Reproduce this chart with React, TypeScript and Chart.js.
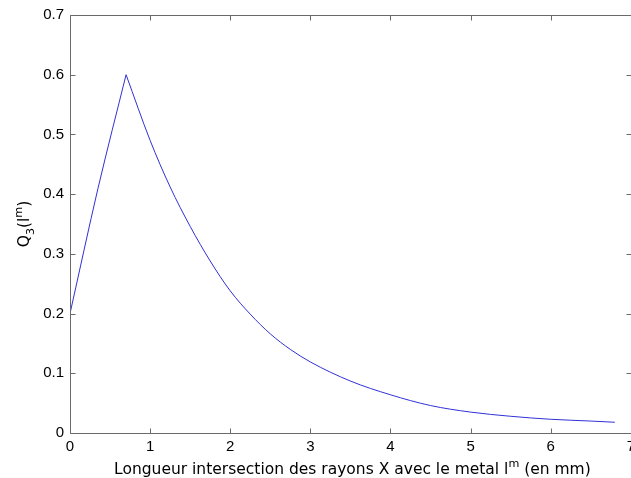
import React, { useEffect, useRef } from 'react';
import { Chart, registerables } from 'chart.js';

Chart.register(...registerables);

// Rising part of the curve
const risingX = [0, 0.35, 0.7];
const risingY = [0.2, 0.41, 0.6];

// Decaying part of the curve
const decayX = [0.7, 1.0, 1.25, 1.5, 1.75, 2.0, 2.25, 2.5, 2.75, 3.0, 3.5, 4.0, 4.5, 5.0, 5.5, 6.0, 6.5, 6.8];
const decayY = [0.6, 0.49, 0.412, 0.346, 0.288, 0.238, 0.199, 0.166, 0.14, 0.119, 0.087, 0.064, 0.046, 0.035, 0.028, 0.023, 0.02, 0.018];

const xTickLabels = ['0', '1', '2', '3', '4', '5', '6', '7'];
const yTickLabels = ['0', '0.1', '0.2', '0.3', '0.4', '0.5', '0.6', '0.7'];

type Part = { text: string; scale: number; dy: number };
const xTitleParts: Part[] = [
  { text: 'Longueur intersection des rayons X avec le metal l', scale: 1, dy: 0 },
  { text: 'm', scale: 0.72, dy: -0.42 },
  { text: ' (en mm)', scale: 1, dy: 0 },
];
const yTitleParts: Part[] = [
  { text: 'Q', scale: 1, dy: 0 },
  { text: '3', scale: 0.72, dy: 0.3 },
  { text: '(l', scale: 1, dy: 0 },
  { text: 'm', scale: 0.72, dy: -0.42 },
  { text: ')', scale: 1, dy: 0 },
];

const TITLE_FONT = 'DejaVu Sans';
const TITLE_SIZE = 15.5;
const TICK_FONT = 'Liberation Sans';
const TICK_SIZE = 15;
const AXIS_COLOR = '#6a6a6a';
const LINE_COLOR = 'rgb(48,48,215)';

function measureParts(ctx: CanvasRenderingContext2D, parts: Part[]) {
  let w = 0;
  for (const p of parts) {
    ctx.font = `${TITLE_SIZE * p.scale}px "${TITLE_FONT}"`;
    w += ctx.measureText(p.text).width;
  }
  return w;
}

function drawParts(ctx: CanvasRenderingContext2D, parts: Part[], x: number, y: number) {
  let cx = x;
  ctx.textAlign = 'left';
  ctx.textBaseline = 'alphabetic';
  ctx.fillStyle = '#000';
  for (const p of parts) {
    ctx.font = `${TITLE_SIZE * p.scale}px "${TITLE_FONT}"`;
    ctx.fillText(p.text, cx, y + p.dy * TITLE_SIZE);
    cx += ctx.measureText(p.text).width;
  }
}

const boxPlugin = {
  id: 'matlabBox',
  afterDraw(chart: any) {
    const { ctx, chartArea, scales } = chart;
    const { left, right, top, bottom } = chartArea;
    const L = Math.round(left) + 0.5;
    const R = Math.round(right) + 0.5;
    const T = Math.round(top) + 0.5;
    const B = Math.round(bottom) + 0.5;
    ctx.save();
    ctx.strokeStyle = AXIS_COLOR;
    ctx.lineWidth = 1;
    ctx.beginPath();
    ctx.rect(L, T, R - L, B - T);
    ctx.stroke();
    const tl = 5;
    ctx.beginPath();
    for (const t of scales.x.ticks) {
      const px = Math.round(scales.x.getPixelForValue(t.value)) + 0.5;
      ctx.moveTo(px, B);
      ctx.lineTo(px, B - tl);
      ctx.moveTo(px, T);
      ctx.lineTo(px, T + tl);
    }
    for (const t of scales.y.ticks) {
      const py = Math.round(scales.y.getPixelForValue(t.value)) + 0.5;
      ctx.moveTo(L, py);
      ctx.lineTo(L + tl, py);
      ctx.moveTo(R, py);
      ctx.lineTo(R - tl, py);
    }
    ctx.stroke();

    // x title
    const xw = measureParts(ctx, xTitleParts);
    const cx = (left + right) / 2 + 2;
    drawParts(ctx, xTitleParts, cx - xw / 2, 474);

    // y title (rotated)
    const yw = measureParts(ctx, yTitleParts);
    const cy = (top + bottom) / 2;
    ctx.translate(29, cy);
    ctx.rotate(-Math.PI / 2);
    drawParts(ctx, yTitleParts, -yw / 2, 0);
    ctx.restore();
  },
};

export default function App() {
  const ref = useRef<HTMLCanvasElement | null>(null);
  useEffect(() => {
    if (!ref.current) return;
    const chart = new Chart(ref.current, {
      type: 'line',
      data: {
        datasets: [
          {
            data: risingX.map((x, i) => ({ x, y: risingY[i] })),
            borderColor: LINE_COLOR,
            borderWidth: 1,
            pointRadius: 0,
            cubicInterpolationMode: 'monotone',
            fill: false,
          },
          {
            data: decayX.map((x, i) => ({ x, y: decayY[i] })),
            borderColor: LINE_COLOR,
            borderWidth: 1,
            pointRadius: 0,
            cubicInterpolationMode: 'monotone',
            fill: false,
          },
        ],
      },
      options: {
        animation: false,
        responsive: false,
        devicePixelRatio: 1,
        layout: { padding: { left: 0, top: 14, right: 7, bottom: 0 } },
        plugins: { legend: { display: false }, tooltip: { enabled: false } },
        scales: {
          x: {
            type: 'linear',
            min: 0,
            max: 7,
            afterFit: (s: any) => { s.height = 45; },
            afterBuildTicks: (s: any) => { s.ticks = xTickLabels.map((l) => ({ value: parseFloat(l) })); },
            grid: { display: true, drawOnChartArea: false, drawTicks: false },
            border: { display: false },
            ticks: {
              padding: 5,
              color: '#000',
              font: { family: TICK_FONT, size: TICK_SIZE },
              maxRotation: 0,
              autoSkip: false,
              callback: (_v: any, i: number) => xTickLabels[i],
            },
          },
          y: {
            type: 'linear',
            min: 0,
            max: 0.7,
            afterFit: (s: any) => { s.width = 70; },
            afterBuildTicks: (s: any) => { s.ticks = yTickLabels.map((l) => ({ value: parseFloat(l) })); },
            grid: { display: true, drawOnChartArea: false, drawTicks: false },
            border: { display: false },
            ticks: {
              padding: 6,
              color: '#000',
              font: { family: TICK_FONT, size: TICK_SIZE },
              autoSkip: false,
              callback: (_v: any, i: number) => yTickLabels[i],
            },
          },
        },
      },
      plugins: [boxPlugin],
    } as any);
    return () => chart.destroy();
  }, []);
  return (
    <div style={{ position: 'fixed', left: 0, top: 0, width: 640, height: 478, background: '#fff' }}>
      <canvas ref={ref} width={640} height={478} style={{ width: 640, height: 478, display: 'block' }} />
    </div>
  );
}
